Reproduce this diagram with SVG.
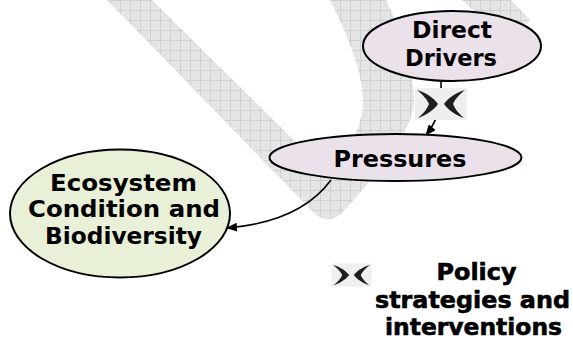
<svg xmlns="http://www.w3.org/2000/svg" width="573" height="341" viewBox="0 0 573 341">
  <style>
    .lbl { font-family: "DejaVu Sans", "Liberation Sans", sans-serif; font-weight: bold; font-size: 23px; fill: #000; text-anchor: middle; }
    .heavy { stroke: #000; stroke-width: 0.6px; }
    .node { stroke: #000; stroke-width: 2; }
    .drv { fill: #ebe1eb; }
    .eco { fill: #e9f0d8; }
    .conn { fill: none; stroke: #000; stroke-width: 1.6; marker-end: url(#arrow); }
  </style>
  <defs>
    <pattern id="grid" patternUnits="userSpaceOnUse" width="10" height="10">
      <rect width="10" height="10" fill="#e6e6e6"/>
      <path d="M0,10 L10,0 M0,0 L10,10" stroke="#dedede" stroke-width="0.8"/>
      <path d="M0,0.5 H10 M0.5,0 V10" stroke="#d0d0d0" stroke-width="1"/>
    </pattern>
    <marker id="arrow" markerUnits="userSpaceOnUse" markerWidth="11" markerHeight="9" refX="10" refY="4.5" orient="auto">
      <path d="M0,0 L11,4.5 L0,9 Z" fill="#000"/>
    </marker>
    <symbol id="cross" overflow="visible">
      <rect x="-2" y="-2" width="52" height="32" fill="#efefef"/>
      <path d="M0,0 C8,2 17,8 21,14 C17,20 8,26 1,28 C6,24 10,19 12,14 C10,9 5,4 0,0 Z" fill="#1e1e1e"/>
      <path d="M48,0 C40,2 31,8 27,14 C31,20 40,26 47,28 C42,24 38,19 36,14 C38,9 43,4 48,0 Z" fill="#1e1e1e"/>
    </symbol>
  </defs>

  <g id="background">
    <path d="M107,0 L312,211 Q328,228 344,211 C375,176 416,130 414,98 C412,60 398,25 386,0 L330,0 C345,30 365,75 363,105 C361,130 346,156 330,176 L152,0 Z" fill="url(#grid)"/>
    <path d="M462,0 L511,0 L530,20 L520,30 L490,25 Z" fill="url(#grid)"/>
  </g>

  <g id="connectors">
    <path class="conn" d="M441,82 C442,105 438,120 426,135"/>
    <path class="conn" d="M331,180 Q300,222 227,228"/>
  </g>

  <g id="icon-link">
    <use href="#cross" x="417" y="90"/>
  </g>

  <g id="direct-drivers">
    <ellipse class="node drv" cx="452" cy="46" rx="89" ry="35"/>
    <text class="lbl" x="452" y="38" textLength="80" lengthAdjust="spacingAndGlyphs">Direct</text>
    <text class="lbl" x="451" y="65.5" textLength="92" lengthAdjust="spacingAndGlyphs">Drivers</text>
  </g>

  <g id="pressures">
    <ellipse class="node drv" cx="395.5" cy="157.5" rx="126" ry="23.5"/>
    <text class="lbl" x="400" y="166.5" textLength="133" lengthAdjust="spacingAndGlyphs">Pressures</text>
  </g>

  <g id="ecosystem">
    <ellipse class="node eco" cx="120" cy="213.5" rx="110" ry="64"/>
    <text class="lbl" x="123.5" y="190.5" textLength="147" lengthAdjust="spacingAndGlyphs">Ecosystem</text>
    <text class="lbl" x="124" y="217" textLength="192" lengthAdjust="spacingAndGlyphs">Condition and</text>
    <text class="lbl" x="123.5" y="243.5" textLength="157" lengthAdjust="spacingAndGlyphs">Biodiversity</text>
  </g>

  <g id="legend">
    <use href="#cross" transform="translate(333,265) scale(0.77,0.72)"/>
    <text class="lbl heavy" x="476.5" y="280" textLength="80" lengthAdjust="spacingAndGlyphs">Policy</text>
    <text class="lbl heavy" x="472.5" y="308" textLength="195" lengthAdjust="spacingAndGlyphs">strategies and</text>
    <text class="lbl heavy" x="473.5" y="335" textLength="177" lengthAdjust="spacingAndGlyphs">interventions</text>
  </g>
</svg>
